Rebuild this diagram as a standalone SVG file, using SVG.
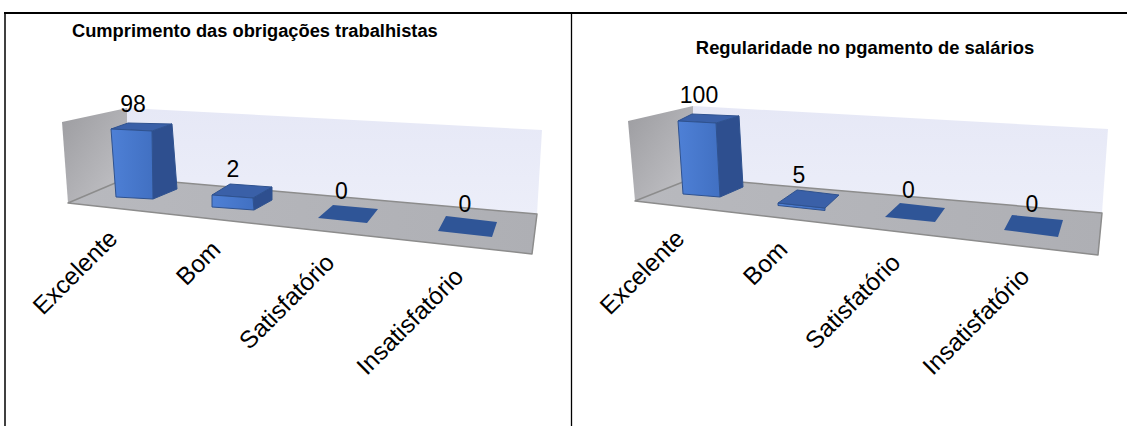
<svg xmlns="http://www.w3.org/2000/svg" width="1127" height="426" viewBox="0 0 1127 426">
<style>
.title{font-family:"Liberation Sans",Arial,sans-serif;font-weight:bold;font-size:18.3px;fill:#000}
.val{font-family:"Liberation Sans",Arial,sans-serif;font-size:23px;fill:#000;text-anchor:middle}
.cat{font-family:"Liberation Sans",Arial,sans-serif;font-size:24.5px;fill:#000;text-anchor:end}
.lwall{fill:url(#gLeft)}
.bwall{fill:url(#gBack)}
.floor{fill:url(#gFloor);stroke:#8c8c8c;stroke-width:1.5;stroke-linejoin:round}
.front{fill:url(#gFront);stroke:#2f528f;stroke-width:1}
.top{fill:#3a60a8;stroke:#2f528f;stroke-width:1}
.side{fill:#2e4f8f;stroke:#2f528f;stroke-width:1}
.tile{fill:#2f5597}
.frame{stroke:#000;fill:none}
</style>
<defs>
<linearGradient id="gLeft" x1="0" y1="0" x2="1" y2="1">
<stop offset="0" stop-color="#9c9ca0"/>
<stop offset="1" stop-color="#c4c4c8"/>
</linearGradient>
<linearGradient id="gBack" x1="0" y1="0" x2="0" y2="1">
<stop offset="0" stop-color="#e6e8f6"/>
<stop offset="1" stop-color="#eceef9"/>
</linearGradient>
<linearGradient id="gFloor" x1="0" y1="0" x2="1" y2="0">
<stop offset="0" stop-color="#b8b9be"/>
<stop offset="1" stop-color="#aeafb4"/>
</linearGradient>
<linearGradient id="gFront" x1="0" y1="0" x2="1" y2="0">
<stop offset="0" stop-color="#4e80d6"/>
<stop offset="1" stop-color="#4170c2"/>
</linearGradient>
</defs>

<g id="frame">
<line class="frame" x1="4" y1="13" x2="1127" y2="13" stroke-width="2"/>
<line class="frame" x1="5" y1="12" x2="5" y2="426" stroke-width="1.5"/>
<line class="frame" x1="571.5" y1="13" x2="571.5" y2="426" stroke-width="1.3"/>
</g>

<g id="chart1">
<text class="title" x="72" y="37">Cumprimento das obrigações trabalhistas</text>
<g id="chart1-walls">
<polygon class="lwall" points="62,122 127,108 127,178 68,203"/>
<polygon class="bwall" points="127,108 542,130 537,214 127,178"/>
<polygon class="floor" points="127,178 537,214 532,254 68,203"/>
</g>
<g id="c1-excelente">
<polygon class="side" points="152,131 172,124 177,189 153,199"/>
<polygon class="top" points="111,129 128,123 172,124 152,131"/>
<polygon class="front" points="111,129 152,131 153,199 116,197"/>
<text class="val" x="133" y="112">98</text>
<text class="cat" x="119" y="240" transform="rotate(-45 119 240)">Excelente</text>
</g>
<g id="c1-bom">
<polygon class="side" points="253,198 272,187 272,200 254,210"/>
<polygon class="top" points="212,195 230,184 272,187 253,198"/>
<polygon class="front" points="212,195 253,198 254,210 212,207"/>
<text class="val" x="233" y="177">2</text>
<text class="cat" x="222" y="251" transform="rotate(-45 222 251)">Bom</text>
</g>
<g id="c1-satisfatorio">
<polygon class="tile" points="318,218 333,205 378,209 367,223"/>
<text class="val" x="341.5" y="199">0</text>
<text class="cat" x="336" y="264" transform="rotate(-45 336 264)">Satisfatório</text>
</g>
<g id="c1-insatisfatorio">
<polygon class="tile" points="438,231 446,216 497,222 492,237"/>
<text class="val" x="465" y="212">0</text>
<text class="cat" x="465" y="278" transform="rotate(-45 465 278)">Insatisfatório</text>
</g>
</g>

<g id="chart2">
<text class="title" x="865" y="54" text-anchor="middle" style="font-size:18.4px">Regularidade no pgamento de salários</text>
<g id="chart2-walls">
<polygon class="lwall" points="628,121 693,106 693,178 635,201"/>
<polygon class="bwall" points="693,106 1108,129 1102,213 693,178"/>
<polygon class="floor" points="693,178 1102,213 1098,255 635,201"/>
</g>
<g id="c2-excelente">
<polygon class="side" points="716,123 739,116 743,187 720,197"/>
<polygon class="top" points="678,121 692,114 739,116 716,123"/>
<polygon class="front" points="678,121 716,123 720,197 683,194"/>
<text class="val" x="699" y="103">100</text>
<text class="cat" x="686" y="240" transform="rotate(-45 686 240)">Excelente</text>
</g>
<g id="c2-bom">
<polygon class="front" points="778,203 825,208 825,210.5 778,205.5"/>
<polygon class="top" points="778,203 797,190 839,195 825,208"/>
<text class="val" x="799" y="183">5</text>
<text class="cat" x="789" y="251" transform="rotate(-45 789 251)">Bom</text>
</g>
<g id="c2-satisfatorio">
<polygon class="tile" points="885,217 900,203 945,208 935,222"/>
<text class="val" x="908.5" y="198">0</text>
<text class="cat" x="902" y="264" transform="rotate(-45 902 264)">Satisfatório</text>
</g>
<g id="c2-insatisfatorio">
<polygon class="tile" points="1004,230 1012,215 1063,220 1058,237"/>
<text class="val" x="1032" y="212">0</text>
<text class="cat" x="1031" y="278" transform="rotate(-45 1031 278)">Insatisfatório</text>
</g>
</g>

<g id="connectors"/>
</svg>
